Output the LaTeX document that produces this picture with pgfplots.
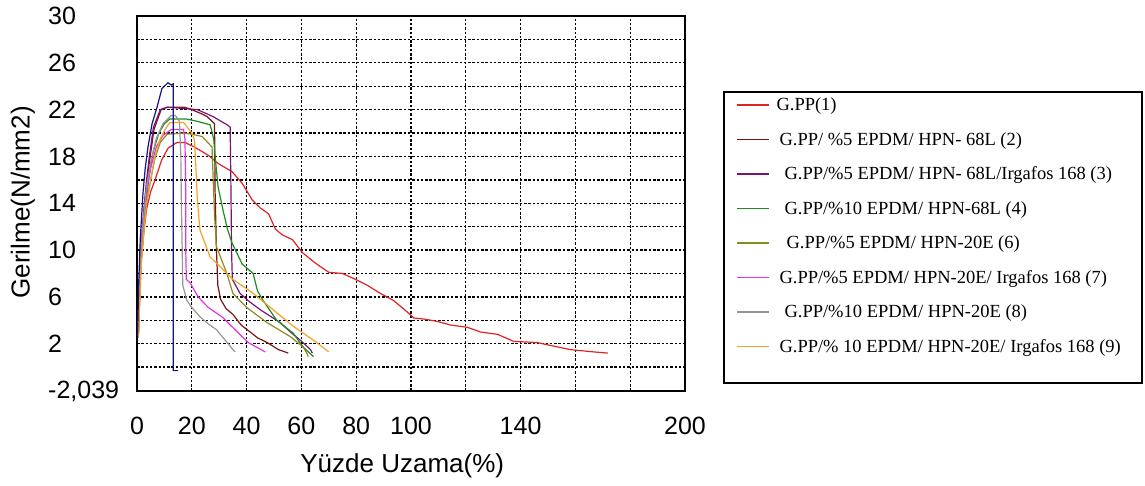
\documentclass[border=0pt]{standalone}
\usepackage{pgfplots}
\pgfplotsset{compat=1.18}
\usepackage{fontspec}
\setmainfont{Liberation Sans}
\newfontfamily\legfont{Liberation Serif}
\definecolor{cRed}{RGB}{225,35,35}
\definecolor{cMaroon}{RGB}{125,20,20}
\definecolor{cPurple}{RGB}{120,20,120}
\definecolor{cGreen}{RGB}{30,140,30}
\definecolor{cOlive}{RGB}{140,140,30}
\definecolor{cMagenta}{RGB}{230,50,230}
\definecolor{cGrey}{RGB}{150,150,150}
\definecolor{cOrange}{RGB}{245,160,40}
\definecolor{cNavy}{RGB}{20,20,130}
\begin{document}
\begin{tikzpicture}
\path[use as bounding box] (0,0) rectangle (1145pt,486pt);
\begin{axis}[
  at={(137pt,95pt)}, anchor=south west,
  scale only axis, width=548pt, height=375pt,
  xmin=0, xmax=200, ymin=-2.039, ymax=30,
  xtick={0,20,...,200},
  xticklabels={0,20,40,60,80,100,{},140,{},{},200},
  ytick={-2.039,0,2,4,6,8,10,12,14,16,18,20,22,24,26,28,30},
  yticklabels={{-2,039},{},2,{},6,{},10,{},14,{},18,{},22,{},26,{},30},
  major tick length=0pt,
  grid=major,
  major grid style={black, line width=1.3pt, dash pattern=on 2.5pt off 1.8pt},
  axis line style={black, line width=1.4pt},
  tick label style={font=\fontsize{25}{30}\selectfont, inner sep=0pt},
  xticklabel style={anchor=north, yshift=-26pt},
  yticklabel style={anchor=west, xshift=-89pt},
  xlabel={Yüzde Uzama(\%)},
  ylabel={Gerilme(N/mm2)},
  label style={font=\fontsize{26}{31}\selectfont},
  xlabel style={at={(axis description cs:0.484,-0.2)}, anchor=center},
  ylabel style={at={(axis description cs:-0.208,0.503)}, anchor=center, rotate=0},
  legend cell align=left,
  legend style={draw=none, fill=none, at={(axis description cs:1.0931,0.8087)}, anchor=north west,
    inner sep=0pt, outer sep=0pt, column sep=7pt, row sep=0pt,
    font=\legfont\fontsize{18.5}{22}\selectfont,
    nodes={inner sep=0pt, minimum height=34.5pt}},
  legend image code/.code={\draw[#1, line width=1.5pt] (0pt,0pt) -- (32pt,0pt);},
  every axis plot/.append style={line width=1.2pt},
]
% G.PP(1)
\addplot[cRed] coordinates {(0.5,2.8)(1,6)(1.5,9)(2.5,11.5)(3.5,13.5)(5,15)(6.6,16)(9,17.7)(11.3,18.7)(14.6,19.2)(17.5,19.2)(21,18.8)(26,18.1)(29.6,17.4)(34.7,16.7)(38.4,15.7)(42,14.3)(45,13.6)(48,13.1)(50.5,11.8)(53,11.3)(56.7,10.9)(60.3,9.8)(65,8.9)(70,8.1)(75,8.0)(79.7,7.5)(84,7.0)(88.8,6.3)(93.6,5.7)(98.7,4.7)(101,4.2)(105,4.1)(109.7,3.9)(114.4,3.6)(120.6,3.4)(125.4,3.0)(131.6,2.8)(137.5,2.2)(146,2.1)(150,1.9)(158,1.5)(166.7,1.3)(171.8,1.2)};
\addlegendentry{G.PP(1)}
% (2)
\addplot[cMaroon] coordinates {(0.5,3)(1,7)(1.5,10)(2.5,13)(3.5,15.5)(4.5,17.5)(6.2,20.3)(8.8,22.0)(11,22.2)(17.5,22.2)(20,22.0)(24,21.6)(25.6,21.4)(28.3,20.8)(28.5,15)(29,10)(29.5,7)(30.5,5.8)(32.5,5.0)(35,4.5)(38,3.6)(41.3,3.0)(44,2.5)(47.5,2.1)(51.6,1.5)(55.2,1.2)};
\addlegendentry{\hspace*{3pt}G.PP/ \%5 EPDM/ HPN- 68L (2)}
% (3)
\addplot[cPurple] coordinates {(0.5,3.2)(1,7)(1.5,10.5)(2.5,13.5)(3.5,16)(4.5,18)(6,20.5)(8.5,22)(11,22.2)(17,22.1)(22,22)(27.8,21.4)(32.9,20.7)(34,20.5)(34.3,15)(34.5,10)(34.8,7.5)(37.6,6.3)(41,5.6)(45,4.9)(49,4.3)(52.3,3.8)(56,3.0)(59.6,2.3)(63.3,1.5)(64,1.2)};
\addlegendentry{\hspace*{8pt}G.PP/\%5 EPDM/ HPN- 68L/Irgafos 168 (3)}
% (4)
\addplot[cGreen] coordinates {(0.5,3)(1,6.5)(1.5,9.5)(2.5,12.5)(3.5,14.5)(4.5,16.5)(6,18.5)(8,20)(10,20.8)(12,21.2)(18,21.2)(22,21)(26.7,20.7)(28,19.5)(28.5,18)(29.6,15.4)(31.4,13.4)(33,11.8)(34.7,10.6)(38.4,8.8)(42.4,8.0)(44,6.5)(46,5.7)(51,4.0)(57,2.9)(60.7,1.7)(64.4,0.9)};
\addlegendentry{\hspace*{8pt}G.PP/\%10 EPDM/ HPN-68L (4)}
% (6)
\addplot[cOlive] coordinates {(0.5,2.8)(1,6)(1.5,9)(2.5,12)(3.5,14)(5,16)(6.5,17.8)(8.5,19.2)(11,19.9)(17,20.0)(20,19.9)(23.8,19.7)(27.4,18.8)(27.8,16)(28.3,13)(29,10.3)(32.8,8)(35,6.3)(40,5.1)(47.5,3.8)(56,2.6)(60.7,1.7)(62,1.2)(62.5,0.9)};
\addlegendentry{\hspace*{10pt}G.PP/\%5 EPDM/ HPN-20E (6)}
% (7)
\addplot[cMagenta] coordinates {(0.3,2.5)(0.6,5)(1,8)(1.5,10.5)(2.5,13)(3.5,15)(5,17)(7,18.8)(9.5,19.8)(12.5,20.3)(17,20.3)(17.5,19.5)(17.8,15)(17.8,10)(18,7.5)(19.4,7.2)(22.3,6)(26,5.1)(31,4.3)(35.8,3.2)(40.6,2.1)(46.8,1.3)};
\addlegendentry{\hspace*{3pt}G.PP/\%5 EPDM/ HPN-20E/ Irgafos 168 (7)}
% (8)
\addplot[cGrey] coordinates {(0.5,3)(1,7)(1.5,10)(2.5,13)(3.5,15.5)(5,17.5)(7,19.5)(9.5,20.8)(12.5,21.5)(14,21.5)(15.5,21)(16,18)(16.2,14)(16.5,10)(16.7,7)(18.2,5.7)(20,5.1)(23,4.3)(26,3.7)(29,3.2)(32.2,2.3)(35,1.5)(35.8,1.3)};
\addlegendentry{\hspace*{8pt}G.PP/\%10 EPDM/ HPN-20E (8)}
% (9)
\addplot[cOrange] coordinates {(0.5,2.5)(1,5.5)(1.5,8.5)(2.5,11.5)(3.5,14)(5,16)(6.5,18)(8.5,19.5)(10.5,20.4)(12,20.9)(17,20.9)(20,20)(21,19.4)(21.5,17)(22,14.5)(22.5,13)(23,11.7)(26.7,9.4)(30.3,8.6)(35,7.5)(42.4,6.3)(49.7,4.9)(57,3.5)(64.4,2.3)(70,1.3)};
\addlegendentry{\hspace*{3pt}G.PP/\% 10 EPDM/ HPN-20E/ Irgafos 168 (9)}
% unlabelled navy curve
\addplot[cNavy, forget plot] coordinates {(0.2,2.5)(0.6,7)(1.2,11)(2.2,14.9)(3,17)(4,18.8)(5.5,20.8)(7.3,22.2)(9.1,23.8)(11.3,24.3)(12.5,24.1)(13.2,24.2)(13.2,-0.3)(15,-0.3)};
\end{axis}
\draw[black, line width=1.1pt] (724pt,103pt) rectangle (1142pt,394pt);
\end{tikzpicture}
\end{document}
